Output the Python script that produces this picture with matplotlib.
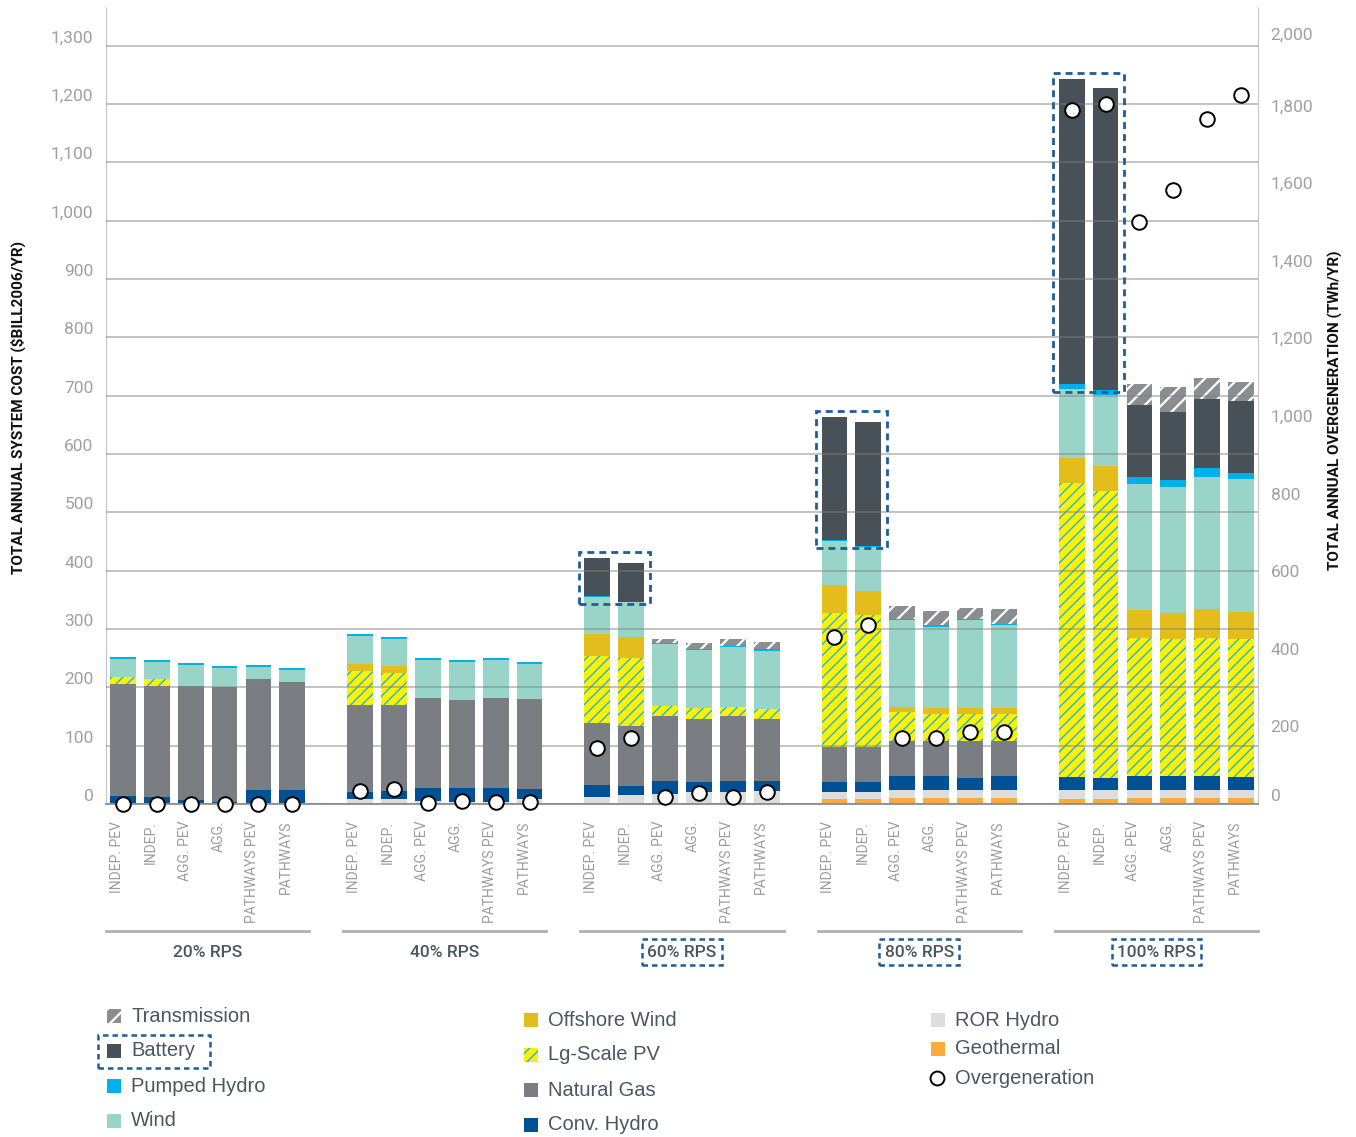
import matplotlib.pyplot as plt
import matplotlib.transforms as mtransforms
from matplotlib.patches import Rectangle
from matplotlib.lines import Line2D
import numpy as np

groups = ["20% RPS", "40% RPS", "60% RPS", "80% RPS", "100% RPS"]
scenarios = ["INDEP. PEV", "INDEP.", "AGG. PEV", "AGG.", "PATHWAYS PEV", "PATHWAYS"]
boxed_groups = [2, 3, 4]

# $BILL2006/yr, 6 scenarios per group, bottom to top of the stack
geothermal = [0, 0, 0, 0, 0, 0,
              0, 0, 0, 0, 0, 0,
              0, 0, 0, 0, 0, 0,
              8.6, 8.6, 10.9, 10.9, 10.9, 10.9,
              8.6, 8.6, 10.9, 10.9, 10.9, 10.9]
ror_hydro = [0, 0, 0, 0, 0, 0,
             8, 8, 4.6, 3.4, 3.4, 8,
             12.4, 15.5, 17, 20.6, 20.6, 23,
             11.4, 11.4, 13.1, 13.1, 13.1, 13.1,
             14.9, 14.9, 12.6, 12.6, 12.6, 12.6]
conv_hydro = [13, 11.5, 6.4, 3.5, 23.5, 23.5,
              12, 13.8, 22.4, 23.6, 23.6, 17,
              20.2, 14.5, 22, 16.4, 18.4, 16,
              17.4, 17.4, 24, 24, 21, 24,
              22.5, 20.5, 24.5, 24.5, 24.5, 23.5]
natural_gas = [192, 191.5, 195.6, 196.5, 190.5, 185.5,
               149.5, 147.2, 154.5, 150.6, 154.5, 154.5,
               105.4, 104, 112, 109, 111, 107,
               59.6, 59.6, 60, 60, 63, 60,
               0, 0, 0, 0, 0, 0]
lg_scale_pv = [12, 10.5, 0, 0, 0, 0,
               58.5, 56, 0, 0, 0, 0,
               116, 116, 17, 18, 15.5, 17,
               230, 226.5, 50, 47, 47, 47,
               504, 493, 237, 234, 237, 235]
offshore_wind = [0, 0, 0, 0, 0, 0,
                 12, 11.5, 0, 0, 0, 0,
                 37, 36, 0, 0, 0, 0,
                 47.5, 42, 8, 9, 9, 9,
                 43, 41.6, 47.7, 45.5, 49.7, 47.7]
wind = [31.5, 29.5, 37, 33.6, 21, 21,
        48.5, 46.5, 65.5, 65.4, 65.5, 60.5,
        63, 60, 106, 100, 103.5, 100,
        76.5, 75.5, 148.6, 140, 150.6, 143.5,
        119, 122.4, 216.5, 216.5, 225.5, 227]
pumped_hydro = [3.5, 4, 2.6, 2.9, 3, 3,
                3, 3.5, 3, 3.6, 3, 3.5,
                3, 1, 2, 2, 2, 2,
                2, 1, 2.4, 2, 2.4, 1.5,
                8.6, 8.6, 11, 11, 15, 11.4]
battery = [0, 0, 0, 0, 0, 0,
           0, 0, 0, 0, 0, 0,
           65, 66, 0, 0, 0, 0,
           210, 212, 0, 0, 0, 0,
           522, 518, 123, 117.6, 119, 122.5]
transmission = [0, 0, 0, 0, 0, 0,
                0, 0, 0, 0, 0, 0,
                0, 0, 7, 10, 12, 13,
                0, 0, 22.5, 24, 19.7, 25.5,
                0, 0, 36, 42.4, 36, 32.5]
# TWh/yr, right axis
overgeneration = [0, 0, 0, 0, 0, 0,
                  33, 38, 3, 8, 4, 6,
                  145, 171, 19, 28, 17, 30,
                  430, 460, 171, 171, 186, 186,
                  1788, 1803, 1499, 1583, 1766, 1828]

# name, values, face colour, hatch, hatch colour, hatch width
layers = [
    ("Geothermal", geothermal, "#f9ab3c", None, None, 1),
    ("ROR Hydro", ror_hydro, "#dcdddf", None, None, 1),
    ("Conv. Hydro", conv_hydro, "#005096", None, None, 1),
    ("Natural Gas", natural_gas, "#7a7e82", None, None, 1),
    ("Lg-Scale PV", lg_scale_pv, "#fff200", "///", "#1fb4e6", 1.0),
    ("Offshore Wind", offshore_wind, "#e3bd1b", None, None, 1),
    ("Wind", wind, "#98d5c8", None, None, 1),
    ("Pumped Hydro", pumped_hydro, "#00b0ea", None, None, 1),
    ("Battery", battery, "#485058", None, None, 1),
    ("Transmission", transmission, "#8b8e91", "//", "white", 1.6),
]

W, H = 1356, 1137
BLUE = "#1f5c9a"
TXT = "#4b5663"
NARROW = ["Roboto", "DejaVu Sans"]
SANS = ["Liberation Sans", "DejaVu Sans"]

fig = plt.figure(figsize=(W / 100, H / 100), dpi=100)
ax = fig.add_axes([106 / W, 1 - 804 / H, 1152 / W, 797 / H])

x = np.array([7 * g + i for g in range(len(groups)) for i in range(len(scenarios))])
bottom = np.zeros(len(x))
for name, vals, color, hatch, hcolor, hlw in layers:
    plt.rcParams["hatch.linewidth"] = hlw
    vals = np.array(vals, dtype=float)
    ax.bar(x, vals, bottom=bottom, width=0.76, color=color, hatch=hatch,
           edgecolor=hcolor if hatch else color, linewidth=0, zorder=1)
    bottom += vals
totals = bottom

# dashed boxes round the battery block
batt = np.array(battery)
batt_bottom = totals - np.array(transmission) - batt
for g in boxed_groups:
    i0, i1 = 6 * g, 6 * g + 1
    y0 = min(batt_bottom[i0], batt_bottom[i1]) - 4
    y1 = max(totals[i0], totals[i1]) + 10
    ax.add_patch(Rectangle((x[i0] - 0.54, y0), x[i1] - x[i0] + 1.09, y1 - y0,
                           fill=False, ec=BLUE, lw=2, ls=(0, (2.5, 1.8)), zorder=6))

ax.set_xlim(-0.5, 33.5)
ax.set_ylim(0, 1366)
ax.set_yticks(np.arange(0, 1301, 100))
ax.set_yticklabels([f"{v:,}" for v in range(0, 1301, 100)])
ax.set_axisbelow(False)
ax.yaxis.grid(True, color="#808080", lw=1.2, alpha=0.55, zorder=2)
ax.tick_params(axis="y", length=0, pad=9, labelsize=12.5, labelcolor="#a0a0a0")
for lab in ax.get_yticklabels():
    lab.set_family(NARROW)
    lab.set_va("bottom")

ax.set_xticks(x)
ax.set_xticklabels(scenarios * len(groups), rotation=90, va="top", ha="center",
                   family=NARROW, fontsize=10, color="#9c9c9c")
ax.tick_params(axis="x", length=0, pad=12)
shift = mtransforms.ScaledTranslation(-0.06, 0, fig.dpi_scale_trans)
for lab in ax.get_xticklabels():
    lab.set_transform(lab.get_transform() + shift)

for side in ["left", "right"]:
    ax.spines[side].set_linestyle((0, (1, 1)))
    ax.spines[side].set_color("#c4c4c4")
ax.spines["top"].set_visible(False)
ax.spines["bottom"].set_color("#9a9a9a")
ax.spines["bottom"].set_linewidth(1.5)

# group captions under the scenario labels
trans = mtransforms.blended_transform_factory(ax.transData, ax.transAxes)
for g, name in enumerate(groups):
    ax.plot([7 * g - 0.5, 7 * g + 5.5], [-0.1594, -0.1594], transform=trans,
            color="#b0b0b0", lw=2, clip_on=False)
    box = None
    if g in boxed_groups:
        box = dict(boxstyle="square,pad=0.3", fc="none", ec=BLUE, lw=1.8,
                   ls=(0, (2.2, 1.6)))
    ax.text(7 * g + 2.5, -0.1857, name, transform=trans, ha="center", va="center",
            family=NARROW, fontsize=12.5, fontweight="medium", color=TXT, bbox=box)

ax2 = ax.twinx()
ax2.set_ylim(0, 1366 * 1.5034)
ax2.set_yticks(np.arange(0, 2001, 200))
ax2.set_yticklabels([f"{v:,}" for v in range(0, 2001, 200)])
ax2.tick_params(axis="y", length=0, pad=9, labelsize=12.5, labelcolor="#a0a0a0")
labs = ax2.get_yticklabels()
for lab in labs:
    lab.set_family(NARROW)
labs[0].set_va("bottom")
labs[-1].set_va("top")
for s in ax2.spines.values():
    s.set_visible(False)
ax2.plot(x, overgeneration, "o", mfc="white", mec="black", ms=10.5, mew=1.4,
         clip_on=False, zorder=5)


def fx(px):
    return px / W


def fy(py):
    return 1 - py / H


fig.text(fx(18), fy(407), "TOTAL ANNUAL SYSTEM COST ($BILL2006/YR)", rotation=90,
         ha="center", va="center", family=NARROW, fontsize=11, fontweight="bold",
         color="#111111")
fig.text(fx(1335), fy(410), "TOTAL ANNUAL OVERGENERATION (TWh/YR)", rotation=90,
         ha="center", va="center", family=NARROW, fontsize=11, fontweight="bold",
         color="#111111")

# legend, three columns
legend_cols = [
    (107, [("Transmission", 1016), ("Battery", 1051), ("Pumped Hydro", 1086), ("Wind", 1121)]),
    (524, [("Offshore Wind", 1020), ("Lg-Scale PV", 1055), ("Natural Gas", 1090), ("Conv. Hydro", 1125)]),
    (931, [("ROR Hydro", 1020), ("Geothermal", 1049)]),
]
style = {name: (color, hatch, hc, hlw) for name, vals, color, hatch, hc, hlw in layers}
for x0, entries in legend_cols:
    for name, py in entries:
        color, hatch, hc, hlw = style[name]
        plt.rcParams["hatch.linewidth"] = hlw
        fig.add_artist(Rectangle((fx(x0), fy(py + 7)), 14 / W, 14 / H,
                                 transform=fig.transFigure, fc=color, hatch=hatch,
                                 ec=hc if hatch else color, lw=0))
        fig.text(fx(x0 + 24), fy(py), name, fontsize=14.5, color=TXT,
                 family=SANS, va="center")
fig.add_artist(Line2D([fx(937)], [fy(1078)], marker="o", ms=10, mfc="white",
                      mec="black", mew=1.4, transform=fig.transFigure))
fig.text(fx(955), fy(1079), "Overgeneration", fontsize=14.5, color=TXT,
         family=SANS, va="center")
fig.add_artist(Rectangle((fx(98), fy(1068)), 112 / W, 33 / H, transform=fig.transFigure,
                         fill=False, ec=BLUE, lw=1.8, ls=(0, (2.2, 1.6))))

fig.savefig("out.png", dpi=100)
